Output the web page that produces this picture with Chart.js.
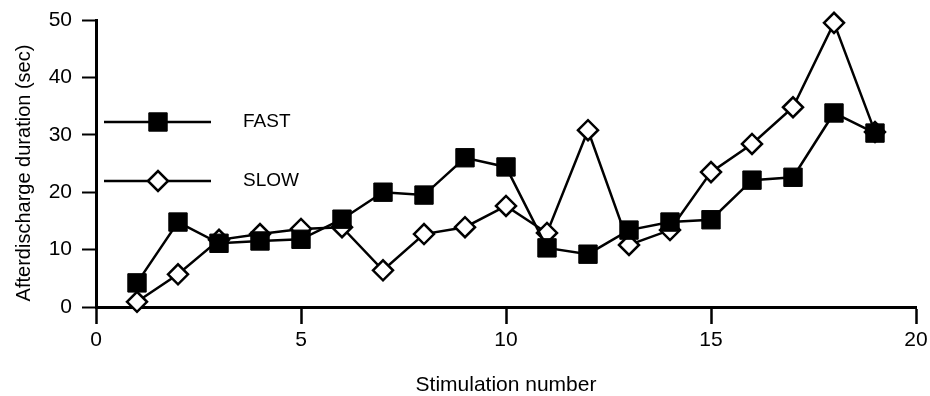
<!DOCTYPE html>
<html>
<head>
<meta charset="utf-8">
<script src="https://cdn.jsdelivr.net/npm/chart.js@4/dist/chart.umd.min.js"></script>
<style>
  html, body { margin: 0; padding: 0; background: #fff; }
  #wrap { width: 930px; height: 396px; }
</style>
</head>
<body>
<div id="wrap"><canvas id="chartAD"></canvas></div>
<script>
// === Datos ===
const stimulation = [1, 2, 3, 4, 5, 6, 7, 8, 9, 10, 11, 12, 13, 14, 15, 16, 17, 18, 19];
const fastValues = [4.2, 14.8, 11.1, 11.5, 11.8, 15.3, 20.0, 19.5, 26.0, 24.4, 10.3, 9.2, 13.4, 14.8, 15.2, 22.1, 22.6, 33.8, 30.3];
const slowValues = [0.9, 5.7, 11.7, 12.7, 13.6, 13.9, 6.4, 12.7, 13.9, 17.6, 12.9, 30.8, 10.8, 13.4, 23.5, 28.4, 34.8, 49.5, 30.5];
const xTicks = [0, 5, 10, 15, 20];
const yTicks = [0, 10, 20, 30, 40, 50];
const yTitle = "Afterdischarge duration (sec)";

const fuente = "'Liberation Sans', Arial, sans-serif";
const negro = "#000";

function toPoints(values) {
  return stimulation.map((x, i) => ({ x: x, y: values[i] }));
}

// === Leyenda dentro del area (linea con marcador) y titulo Y ===
const extras = {
  id: "extras",
  afterDraw(chart) {
    const ctx = chart.ctx;
    const area = chart.chartArea;
    const items = [
      { label: "FAST", ds: chart.data.datasets[0], dy: 102 },
      { label: "SLOW", ds: chart.data.datasets[1], dy: 161 }
    ];
    ctx.save();
    items.forEach(item => {
      const y = area.top + item.dy;
      ctx.strokeStyle = negro;
      ctx.lineWidth = 2.5;
      ctx.beginPath();
      ctx.moveTo(area.left + 8, y);
      ctx.lineTo(area.left + 115, y);
      ctx.stroke();
      ctx.fillStyle = item.ds.pointBackgroundColor;
      ctx.strokeStyle = negro;
      ctx.lineWidth = item.ds.pointBorderWidth;
      Chart.helpers.drawPoint(ctx, {
        pointStyle: item.ds.pointStyle,
        radius: item.ds.pointRadius,
        borderWidth: item.ds.pointBorderWidth,
        rotation: 0
      }, area.left + 62, y);
      ctx.fillStyle = negro;
      ctx.font = "19px " + fuente;
      ctx.textBaseline = "middle";
      ctx.textAlign = "left";
      ctx.fillText(item.label, area.left + 147, y);
    });

    // titulo del eje Y
    ctx.translate(24, 173);
    ctx.rotate(-Math.PI / 2);
    ctx.font = "20px " + fuente;
    ctx.textAlign = "center";
    ctx.textBaseline = "middle";
    ctx.fillStyle = negro;
    ctx.fillText(yTitle, 0, 0);
    ctx.restore();
  }
};

new Chart(document.getElementById("chartAD"), {
  type: "line",
  data: {
    datasets: [
      {
        label: "FAST",
        data: toPoints(fastValues),
        borderColor: negro,
        borderWidth: 2.5,
        tension: 0,
        pointStyle: "rect",
        pointRadius: 13,
        pointBorderWidth: 1,
        pointBorderColor: negro,
        pointBackgroundColor: negro,
        clip: false
      },
      {
        label: "SLOW",
        data: toPoints(slowValues),
        borderColor: negro,
        borderWidth: 2.5,
        tension: 0,
        pointStyle: "rectRot",
        pointRadius: 10,
        pointBorderWidth: 2.5,
        pointBorderColor: negro,
        pointBackgroundColor: "#fff",
        clip: false
      }
    ]
  },
  options: {
    responsive: true,
    maintainAspectRatio: false,
    animation: false,
    events: [],
    layout: {
      padding: { top: 20, right: 5, bottom: 0, left: 0 }
    },
    plugins: {
      legend: { display: false },
      tooltip: { enabled: false }
    },
    scales: {
      x: {
        type: "linear",
        min: 0,
        max: 20,
        afterBuildTicks: scale => { scale.ticks = xTicks.map(v => ({ value: v })); },
        afterFit: scale => { scale.height = 89; scale.paddingRight = 0; scale.paddingLeft = 0; },
        grid: {
          drawOnChartArea: false,
          drawTicks: true,
          tickLength: 17,
          tickWidth: 2.5,
          tickColor: negro
        },
        border: { display: true, color: negro, width: 3 },
        ticks: {
          color: negro,
          padding: 4,
          font: { family: fuente, size: 21 }
        },
        title: {
          display: true,
          text: "Stimulation number",
          color: negro,
          font: { family: fuente, size: 21, lineHeight: 1 },
          padding: { top: 0, bottom: 0 }
        }
      },
      y: {
        min: 0,
        max: 50,
        afterBuildTicks: scale => { scale.ticks = yTicks.map(v => ({ value: v })); },
        afterFit: scale => { scale.width = 96; scale.paddingTop = 0; scale.paddingBottom = 0; },
        grid: {
          drawOnChartArea: false,
          drawTicks: true,
          tickLength: 14,
          tickWidth: 2,
          tickColor: negro
        },
        border: { display: true, color: negro, width: 3 },
        ticks: {
          color: negro,
          padding: 10,
          font: { family: fuente, size: 21 }
        }
      }
    }
  },
  plugins: [extras]
});
</script>
</body>
</html>
